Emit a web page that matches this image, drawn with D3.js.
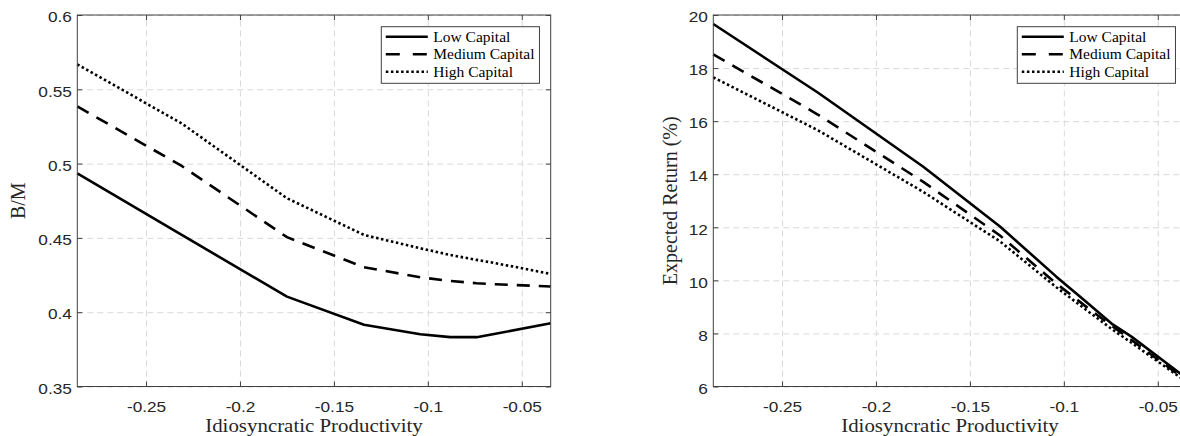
<!DOCTYPE html>
<html>
<head>
<meta charset="utf-8">
<script src="https://cdn.jsdelivr.net/npm/d3@7"></script>
<style>
  body { margin: 0; background: #ffffff; }
  svg { display: block; }
</style>
</head>
<body>
<div id="chart"></div>
<script>
// # Data.
const seriesNames = ['Low Capital', 'Medium Capital', 'High Capital']
const productivity = [-0.2866, -0.231, -0.175, -0.134, -0.104, -0.088, -0.074, -0.064, -0.0346]

const bmLow = [0.4935, 0.452, 0.4105, 0.3915, 0.3852, 0.3832, 0.3832, 0.3855, 0.3926]
const bmMedium = [0.5385, 0.4984, 0.4505, 0.4303, 0.4235, 0.4210, 0.4195, 0.4188, 0.4173]
const bmHigh = [0.5668, 0.527, 0.4767, 0.452, 0.4430, 0.4385, 0.4352, 0.4330, 0.4258]

const retLow = [19.66, 17.08, 14.29, 12.03, 10.14, 9.18, 8.34, 7.88, 6.3]
const retMedium = [18.52, 16.25, 13.72, 11.69, 9.88, 9.0, 8.26, 7.75, 6.22]
const retHigh = [17.65, 15.66, 13.34, 11.47, 9.74, 8.88, 8.14, 7.65, 6.17]

// # Tick labels.
const xTicks = [-0.25, -0.2, -0.15, -0.1, -0.05]
const bmTicks = [0.35, 0.4, 0.45, 0.5, 0.55, 0.6]
const retTicks = [6, 8, 10, 12, 14, 16, 18, 20]

// # Layout settings.
const width = 1180
const height = 436
const plotTop = 15
const plotBottom = 386.5
const plotWidth = 473.4
const xDomain = [-0.2866, -0.0346]
const axisColor = '#404040'
const tickTextColor = '#262626'
const gridColor = '#d9d9d9'
const sansFont = '"Liberation Sans", Arial, Helvetica, sans-serif'
const serifFont = '"Liberation Serif", "Times New Roman", serif'
const lineWidth = 2.6
const dashStyles = [null, '13,9', '2.5,2.6']
const legendDashStyles = [null, '14,13', '2.5,2.6']

const svg = d3.select('#chart')
    .append('svg')
    .attr('width', width)
    .attr('height', height)

// # Draws one panel: grid, lines, box, axes, labels and legend.
function drawPanel(opts) {
    const left = opts.left
    const right = left + plotWidth
    const x = d3.scaleLinear().domain(xDomain).range([left, right])
    const y = d3.scaleLinear().domain(opts.yDomain).range([plotBottom, plotTop])
    const g = svg.append('g')

    // # Grid lines.
    g.append('g')
        .attr('transform', 'translate(0,' + plotBottom + ')')
        .call(d3.axisBottom(x).tickValues(xTicks).tickSize(-(plotBottom - plotTop)).tickFormat(''))
        .call(s => s.select('.domain').remove())
        .selectAll('line')
        .attr('stroke', gridColor)
        .attr('stroke-dasharray', '6,4')
    g.append('g')
        .attr('transform', 'translate(' + left + ',0)')
        .call(d3.axisLeft(y).tickValues(opts.yTicks).tickSize(-plotWidth).tickFormat(''))
        .call(s => s.select('.domain').remove())
        .selectAll('line')
        .attr('stroke', gridColor)
        .attr('stroke-dasharray', '6,4')

    // # Series lines.
    const line = d3.line()
        .x((d, i) => x(productivity[i]))
        .y(d => y(d))
    opts.series.forEach((values, k) => {
        g.append('path')
            .datum(values)
            .attr('d', line)
            .attr('fill', 'none')
            .attr('stroke', '#000')
            .attr('stroke-width', lineWidth)
            .attr('stroke-linejoin', 'round')
            .attr('stroke-dasharray', dashStyles[k])
    })

    // # Box.
    g.append('rect')
        .attr('x', left)
        .attr('y', plotTop)
        .attr('width', plotWidth)
        .attr('height', plotBottom - plotTop)
        .attr('fill', 'none')
        .attr('stroke', axisColor)
        .attr('stroke-width', 1)

    // # Axes with inward ticks.
    const styleAxis = (s) => {
        s.select('.domain').remove()
        s.selectAll('line').attr('stroke', axisColor)
        s.selectAll('text')
            .attr('fill', tickTextColor)
            .style('font-family', sansFont)
            .style('font-size', '15px')
    }
    g.append('g')
        .attr('transform', 'translate(0,' + plotBottom + ')')
        .call(d3.axisBottom(x).tickValues(xTicks).tickSizeInner(-5).tickSizeOuter(0)
            .tickPadding(15).tickFormat(d => String(d)))
        .call(styleAxis)
        .selectAll('text')
        .attr('transform', 'scale(1.15,1)')
    g.append('g')
        .attr('transform', 'translate(0,' + plotTop + ')')
        .call(d3.axisTop(x).tickValues(xTicks).tickSizeInner(-5).tickSizeOuter(0).tickFormat(''))
        .call(styleAxis)
    g.append('g')
        .attr('transform', 'translate(' + left + ',0)')
        .call(d3.axisLeft(y).tickValues(opts.yTicks).tickSizeInner(-5).tickSizeOuter(0)
            .tickPadding(4.7).tickFormat(d => String(d)))
        .call(styleAxis)
        .selectAll('text')
        .attr('dy', '0.45em')
        .attr('transform', 'scale(1.15,1)')
    g.append('g')
        .attr('transform', 'translate(' + right + ',0)')
        .call(d3.axisRight(y).tickValues(opts.yTicks).tickSizeInner(-5).tickSizeOuter(0).tickFormat(''))
        .call(styleAxis)

    // # Axis labels.
    const cx = (left + right) / 2
    g.append('text')
        .attr('transform', 'translate(' + cx + ',432) scale(1.1,1)')
        .attr('text-anchor', 'middle')
        .attr('fill', tickTextColor)
        .style('font-family', serifFont)
        .style('font-size', '19px')
        .text('Idiosyncratic Productivity')
    g.append('text')
        .attr('transform', 'translate(' + opts.ylabelX + ',' + (plotTop + plotBottom) / 2 + ') rotate(-90)')
        .attr('text-anchor', 'middle')
        .attr('fill', tickTextColor)
        .style('font-family', serifFont)
        .style('font-size', '20px')
        .text(opts.ylabel)

    // # Legend.
    const lx = left + 304
    const ly = 26.7
    const legend = g.append('g')
    const box = legend.append('rect')
        .attr('x', lx)
        .attr('y', ly)
        .attr('height', 56.6)
        .attr('fill', '#fff')
        .attr('stroke', axisColor)
        .attr('stroke-width', 1)
    let maxLen = 0
    seriesNames.forEach((name, k) => {
        const ry = 36.7 + k * 17.5
        legend.append('line')
            .attr('x1', lx + 4.5)
            .attr('x2', lx + 46.5)
            .attr('y1', ry)
            .attr('y2', ry)
            .attr('stroke', '#000')
            .attr('stroke-width', lineWidth)
            .attr('stroke-dasharray', legendDashStyles[k])
        const t = legend.append('text')
            .attr('x', lx + 52)
            .attr('y', ry + 5)
            .attr('fill', '#000')
            .style('font-family', serifFont)
            .style('font-size', '15.5px')
            .text(name)
        maxLen = Math.max(maxLen, t.node().getComputedTextLength())
    })
    box.attr('width', 52 + maxLen + 5)
}

drawPanel({
    left: 77.3,
    yDomain: [0.35, 0.6],
    yTicks: bmTicks,
    ylabel: 'B/M',
    ylabelX: 25,
    series: [bmLow, bmMedium, bmHigh]
})

drawPanel({
    left: 713.3,
    yDomain: [6, 20],
    yTicks: retTicks,
    ylabel: 'Expected Return (%)',
    ylabelX: 677,
    series: [retLow, retMedium, retHigh]
})
</script>
</body>
</html>
